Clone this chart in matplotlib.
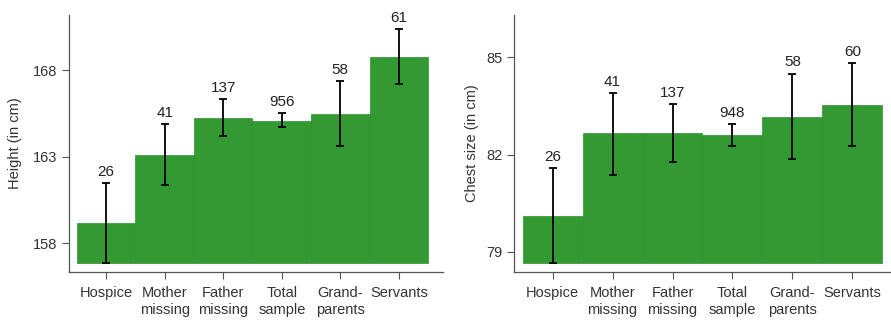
import matplotlib
matplotlib.use("Agg")
import matplotlib.pyplot as plt
import numpy as np

plt.rcParams['font.family'] = ['Liberation Sans', 'DejaVu Sans']

categories = ["Hospice", "Mother\nmissing", "Father\nmissing", "Total\nsample", "Grand-\nparents", "Servants"]

# Height (cm)
height_mean = [159.16, 163.13, 165.26, 165.06, 165.49, 168.78]
height_lo = [156.88, 161.36, 164.19, 164.71, 163.65, 167.21]
height_hi = [161.47, 164.91, 166.36, 165.51, 167.36, 170.41]
height_n = [26, 41, 137, 956, 58, 61]

# Chest size (cm)
chest_mean = [80.10, 82.65, 82.67, 82.60, 83.16, 83.54]
chest_lo = [78.64, 81.38, 81.77, 82.27, 81.85, 82.27]
chest_hi = [81.57, 83.90, 83.55, 82.93, 84.50, 84.83]
chest_n = [26, 41, 137, 948, 58, 60]

GREEN = "#339933"
SPINE = "#555555"
TEXT = "#333333"

fig = plt.figure(figsize=(8.91, 3.2), dpi=100)


def panel(rect, mean, lo, hi, n, base, ylim, xlim, yticks, ylabel, labelpad):
    ax = fig.add_axes(rect)
    x = np.arange(len(categories))
    mean = np.array(mean)
    ax.bar(x, mean - base, bottom=base, width=1.0, color=GREEN,
           edgecolor="#2f8f2f", linewidth=0.5, zorder=1)
    yerr = np.vstack([mean - np.array(lo), np.array(hi) - mean])
    ax.errorbar(x, mean, yerr=yerr, fmt="none", ecolor="black",
                elinewidth=1.3, capsize=3, capthick=1.3, zorder=3)
    for xi, h, cnt in zip(x, hi, n):
        ax.annotate(str(cnt), (xi, h), xytext=(0, 3), textcoords="offset points",
                    ha="center", va="bottom", fontsize=11, color="#222222")
    ax.set_xlim(*xlim)
    ax.set_ylim(*ylim)
    ax.set_yticks(yticks)
    ax.set_xticks(x)
    ax.set_xticklabels(categories, fontsize=10.5, color=TEXT, linespacing=1.3)
    ax.tick_params(axis="y", labelsize=10.5, labelcolor=TEXT, color=SPINE, length=5, width=0.8)
    ax.tick_params(axis="x", color=SPINE, length=5, width=0.8, pad=5)
    ax.set_ylabel(ylabel, fontsize=10.5, color=TEXT, labelpad=labelpad)
    for s in ["top", "right"]:
        ax.spines[s].set_visible(False)
    for s in ["left", "bottom"]:
        ax.spines[s].set_color(SPINE)
        ax.spines[s].set_linewidth(0.9)
    return ax


panel([0.0778, 0.151, 0.4197, 0.802], height_mean, height_lo, height_hi, height_n,
      base=156.88, ylim=(156.36, 171.2), xlim=(-0.63, 5.76),
      yticks=[158, 163, 168], ylabel="Height (in cm)", labelpad=8)

panel([0.5772, 0.151, 0.4218, 0.802], chest_mean, chest_lo, chest_hi, chest_n,
      base=78.64, ylim=(78.38, 86.31), xlim=(-0.64, 5.63),
      yticks=[79, 82, 85], ylabel="Chest size (in cm)", labelpad=5)

fig.savefig("out.png", dpi=100)
